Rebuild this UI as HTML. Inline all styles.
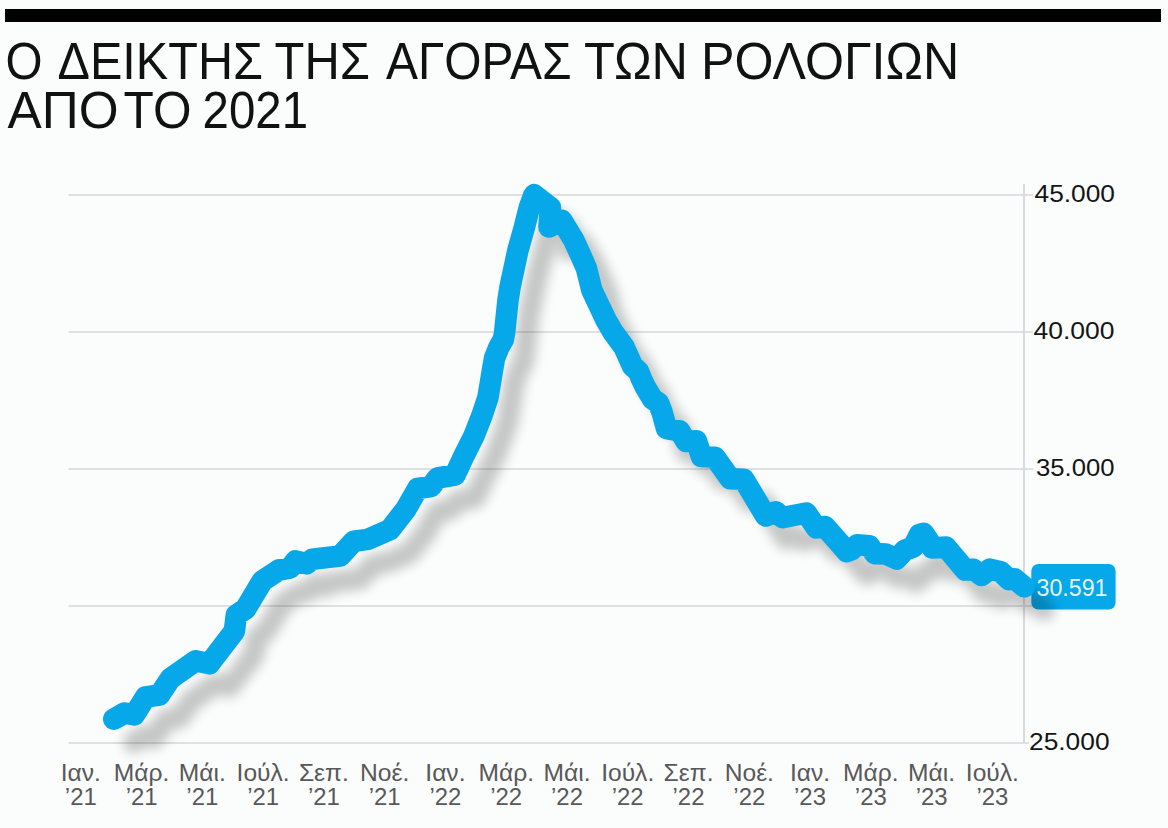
<!DOCTYPE html>
<html><head><meta charset="utf-8"><title>chart</title>
<style>
html,body{margin:0;padding:0;background:#fbfcfc;}
body{width:1168px;height:828px;overflow:hidden;font-family:"Liberation Sans",sans-serif;}
svg{display:block;}
text{font-family:"Liberation Sans",sans-serif;}
.title text{font-size:52.3px;fill:#111;}
.xl text{font-size:23px;fill:#585858;}
.yl text{font-size:24px;fill:#151515;}
.grid line{stroke:#dee0e1;stroke-width:2;}
</style></head><body>
<svg width="1168" height="828" viewBox="0 0 1168 828">
<defs>
<filter id="sh" x="-10%" y="-10%" width="120%" height="120%"><feGaussianBlur stdDeviation="6"/></filter>
</defs>
<rect x="0" y="0" width="1168" height="828" fill="#fbfcfc"/>
<rect x="5" y="9" width="1156" height="13" fill="#000"/>
<g class="title">
<text x="5.50" y="79" textLength="37.07" lengthAdjust="spacingAndGlyphs">Ο</text>
<text x="57.50" y="79" textLength="205.51" lengthAdjust="spacingAndGlyphs">ΔΕΙΚΤΗΣ</text>
<text x="274.50" y="79" textLength="95.48" lengthAdjust="spacingAndGlyphs">ΤΗΣ</text>
<text x="386.00" y="79" textLength="185.48" lengthAdjust="spacingAndGlyphs">ΑΓΟΡΑΣ</text>
<text x="584.00" y="79" textLength="104.05" lengthAdjust="spacingAndGlyphs">ΤΩΝ</text>
<text x="701.00" y="79" textLength="258.16" lengthAdjust="spacingAndGlyphs">ΡΟΛΟΓΙΩΝ</text>
<text x="7.50" y="128.3" textLength="110.97" lengthAdjust="spacingAndGlyphs">ΑΠΟ</text>
<text x="123.50" y="128.3" textLength="67.97" lengthAdjust="spacingAndGlyphs">ΤΟ</text>
<text x="202.50" y="128.3" textLength="105.56" lengthAdjust="spacingAndGlyphs">2021</text>
</g>
<g class="grid">
<line x1="68.5" x2="1033" y1="195" y2="195"/>
<line x1="68.5" x2="1033" y1="332" y2="332"/>
<line x1="68.5" x2="1033" y1="469" y2="469"/>
<line x1="68.5" x2="1033" y1="606" y2="606"/>
<line x1="68.5" x2="1029" y1="743" y2="743"/>
<line x1="1024" x2="1024" y1="184" y2="743" style="stroke:#d8dade;stroke-width:2"/>
</g>
<rect x="1031.3" y="564" width="84.3" height="45.6" rx="7" fill="#06a8ea"/>
<g transform="translate(20,23)" filter="url(#sh)" opacity="0.21">
<polyline points="113.8,719.2 124.7,713 134.4,714.8 145.6,697 159.4,695 170.6,678.3 195.6,660.8 209.4,663.8 234.4,631.1 236.3,615 245.6,608.9 262.2,581.1 278.9,570 290,568.2 295.6,561 306.7,563.8 312.2,559.2 340,556.1 353.9,541.2 367.8,539.4 390,529.7 405.9,509.1 417.7,488.5 431,486.5 437.5,478 455,475 464.2,455.3 473.9,436 481.6,416.6 488,397.3 492.8,368.3 494.6,358 499,347 503.4,339.3 504.6,332.6 508,300 510.2,286.2 518,250 524.2,228 529.5,207 534,194.7 550.4,207.5 549,227 561.6,220.2 573.5,239.6 581.5,257 586.5,268.5 591.8,290 596.5,300 606,320 613,332 624,347 632.5,366 638.5,371.5 641.5,379 645,386.5 652.5,399 658.5,403 662,412 666.5,428.5 679.5,430.8 686.2,441.5 696.4,440.8 701.4,456.5 714.9,457.2 730.2,478.8 743.7,479.2 765.7,516 775.8,511.8 782.6,517.6 806.2,513 816.4,527.8 824.8,526.5 846.8,551.5 851.5,549.9 857,544.8 869.3,545.8 874.8,553.6 885.8,554 896.7,559 904.9,550.2 913.2,547.1 919.5,534.5 923.5,533.2 928.2,540.3 932.3,548 946,547.1 965.2,570 973.4,569.2 981.6,575.5 989.9,569.2 1000.8,571.8 1009,579.6 1014.5,578.8 1024.1,586.8" fill="none" stroke="#000" stroke-width="21.6" stroke-linejoin="round" stroke-linecap="round"/>
</g>
<polyline points="113.8,719.2 124.7,713 134.4,714.8 145.6,697 159.4,695 170.6,678.3 195.6,660.8 209.4,663.8 234.4,631.1 236.3,615 245.6,608.9 262.2,581.1 278.9,570 290,568.2 295.6,561 306.7,563.8 312.2,559.2 340,556.1 353.9,541.2 367.8,539.4 390,529.7 405.9,509.1 417.7,488.5 431,486.5 437.5,478 455,475 464.2,455.3 473.9,436 481.6,416.6 488,397.3 492.8,368.3 494.6,358 499,347 503.4,339.3 504.6,332.6 508,300 510.2,286.2 518,250 524.2,228 529.5,207 534,194.7 550.4,207.5 549,227 561.6,220.2 573.5,239.6 581.5,257 586.5,268.5 591.8,290 596.5,300 606,320 613,332 624,347 632.5,366 638.5,371.5 641.5,379 645,386.5 652.5,399 658.5,403 662,412 666.5,428.5 679.5,430.8 686.2,441.5 696.4,440.8 701.4,456.5 714.9,457.2 730.2,478.8 743.7,479.2 765.7,516 775.8,511.8 782.6,517.6 806.2,513 816.4,527.8 824.8,526.5 846.8,551.5 851.5,549.9 857,544.8 869.3,545.8 874.8,553.6 885.8,554 896.7,559 904.9,550.2 913.2,547.1 919.5,534.5 923.5,533.2 928.2,540.3 932.3,548 946,547.1 965.2,570 973.4,569.2 981.6,575.5 989.9,569.2 1000.8,571.8 1009,579.6 1014.5,578.8 1024.1,586.8" fill="none" stroke="#06a8ea" stroke-width="21.6" stroke-linejoin="round" stroke-linecap="round"/>
<text x="1036.5" y="596" textLength="71.04" lengthAdjust="spacingAndGlyphs" style="font-size:23.5px;fill:#fff;fill-opacity:.92">30.591</text>
<g class="yl">
<text x="1034.5" y="201.5" textLength="80.51" lengthAdjust="spacingAndGlyphs">45.000</text>
<text x="1033.5" y="338.5" textLength="81.0" lengthAdjust="spacingAndGlyphs">40.000</text>
<text x="1036.0" y="475.5" textLength="78.5" lengthAdjust="spacingAndGlyphs">35.000</text>
<text x="1029.0" y="749.5" textLength="80.54" lengthAdjust="spacingAndGlyphs">25.000</text>
</g>
<g class="xl">
<g transform="translate(80.8,0)"><text transform="scale(1.07,1)" x="0" y="781.5" text-anchor="middle">Ιαν.</text><text transform="scale(1.04,1)" x="0" y="805.3" text-anchor="middle">’21</text></g>
<g transform="translate(141.6,0)"><text transform="scale(1.07,1)" x="0" y="781.5" text-anchor="middle">Μάρ.</text><text transform="scale(1.04,1)" x="0" y="805.3" text-anchor="middle">’21</text></g>
<g transform="translate(202.3,0)"><text transform="scale(1.07,1)" x="0" y="781.5" text-anchor="middle">Μάι.</text><text transform="scale(1.04,1)" x="0" y="805.3" text-anchor="middle">’21</text></g>
<g transform="translate(263.1,0)"><text transform="scale(1.07,1)" x="0" y="781.5" text-anchor="middle">Ιούλ.</text><text transform="scale(1.04,1)" x="0" y="805.3" text-anchor="middle">’21</text></g>
<g transform="translate(323.9,0)"><text transform="scale(1.07,1)" x="0" y="781.5" text-anchor="middle">Σεπ.</text><text transform="scale(1.04,1)" x="0" y="805.3" text-anchor="middle">’21</text></g>
<g transform="translate(384.7,0)"><text transform="scale(1.07,1)" x="0" y="781.5" text-anchor="middle">Νοέ.</text><text transform="scale(1.04,1)" x="0" y="805.3" text-anchor="middle">’21</text></g>
<g transform="translate(445.4,0)"><text transform="scale(1.07,1)" x="0" y="781.5" text-anchor="middle">Ιαν.</text><text transform="scale(1.04,1)" x="0" y="805.3" text-anchor="middle">’22</text></g>
<g transform="translate(506.2,0)"><text transform="scale(1.07,1)" x="0" y="781.5" text-anchor="middle">Μάρ.</text><text transform="scale(1.04,1)" x="0" y="805.3" text-anchor="middle">’22</text></g>
<g transform="translate(567.0,0)"><text transform="scale(1.07,1)" x="0" y="781.5" text-anchor="middle">Μάι.</text><text transform="scale(1.04,1)" x="0" y="805.3" text-anchor="middle">’22</text></g>
<g transform="translate(627.7,0)"><text transform="scale(1.07,1)" x="0" y="781.5" text-anchor="middle">Ιούλ.</text><text transform="scale(1.04,1)" x="0" y="805.3" text-anchor="middle">’22</text></g>
<g transform="translate(688.5,0)"><text transform="scale(1.07,1)" x="0" y="781.5" text-anchor="middle">Σεπ.</text><text transform="scale(1.04,1)" x="0" y="805.3" text-anchor="middle">’22</text></g>
<g transform="translate(749.3,0)"><text transform="scale(1.07,1)" x="0" y="781.5" text-anchor="middle">Νοέ.</text><text transform="scale(1.04,1)" x="0" y="805.3" text-anchor="middle">’22</text></g>
<g transform="translate(810.0,0)"><text transform="scale(1.07,1)" x="0" y="781.5" text-anchor="middle">Ιαν.</text><text transform="scale(1.04,1)" x="0" y="805.3" text-anchor="middle">’23</text></g>
<g transform="translate(870.8,0)"><text transform="scale(1.07,1)" x="0" y="781.5" text-anchor="middle">Μάρ.</text><text transform="scale(1.04,1)" x="0" y="805.3" text-anchor="middle">’23</text></g>
<g transform="translate(931.6,0)"><text transform="scale(1.07,1)" x="0" y="781.5" text-anchor="middle">Μάι.</text><text transform="scale(1.04,1)" x="0" y="805.3" text-anchor="middle">’23</text></g>
<g transform="translate(992.4,0)"><text transform="scale(1.07,1)" x="0" y="781.5" text-anchor="middle">Ιούλ.</text><text transform="scale(1.04,1)" x="0" y="805.3" text-anchor="middle">’23</text></g>
</g>
</svg>
</body></html>
